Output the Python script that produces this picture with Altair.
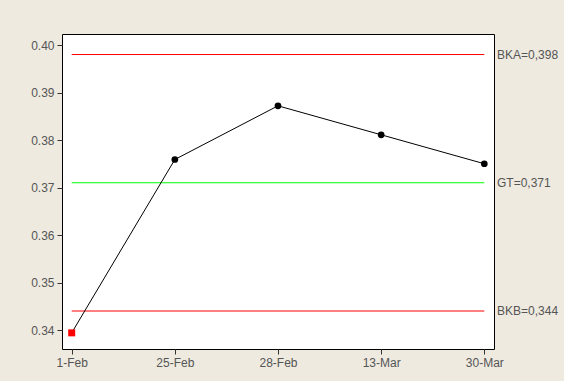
import altair as alt
import pandas as pd

# Sample dates and measured values
dates = ["1-Feb", "25-Feb", "28-Feb", "13-Mar", "30-Mar"]
values = [0.3394, 0.3759, 0.3872, 0.3811, 0.3750]

# Control limits: upper (BKA), centre (GT), lower (BKB)
limit_names = ["BKA", "GT", "BKB"]
limit_values = [0.398, 0.371, 0.344]
limit_colors = ["#FF0000", "#00FF00", "#FF0000"]

y_ticks = [0.34, 0.35, 0.36, 0.37, 0.38, 0.39, 0.40]

W, H = 432, 315
PAD = {"left": 62, "top": 34, "right": 70, "bottom": 32}
TEXT_GRAY = "#555555"
FONT = "Liberation Sans"

lo, hi = min(limit_values), max(limit_values)
pts = pd.DataFrame({
    "date": dates,
    "value": values,
    "status": ["out" if (v < lo or v > hi) else "in" for v in values],
})
lims = pd.DataFrame({
    "name": limit_names,
    "value": limit_values,
    "color": limit_colors,
    "start": dates[0],
    "end": dates[-1],
    "label": [f"{n}={v:.3f}".replace(".", ",") for n, v in zip(limit_names, limit_values)],
})

x_scale = alt.Scale(type="point", domain=dates, padding=0.094)
y_scale = alt.Scale(domain=[0.3360, 0.40232], nice=False, zero=False)

x_enc = alt.X("date:N", scale=x_scale, sort=dates,
              axis=alt.Axis(title=None, labelAngle=0, domain=False, ticks=True,
                            tickSize=5, tickColor="#333333", labelColor=TEXT_GRAY,
                            labelFont=FONT, labelFontSize=12, labelPadding=3, grid=False))
y_enc = alt.Y("value:Q", scale=y_scale,
              axis=alt.Axis(title=None, values=y_ticks, format=".2f", domain=False,
                            tickSize=5, tickColor="#333333", labelColor=TEXT_GRAY,
                            labelFont=FONT, labelFontSize=12, labelPadding=3, grid=False))

limit_rules = alt.Chart(lims).mark_rule(strokeWidth=1).encode(
    x=x_enc,
    x2=alt.X2("end:N"),
    y=alt.Y("value:Q", scale=y_scale),
    color=alt.Color("color:N", scale=None),
).transform_calculate(date="datum.start")

limit_labels = alt.Chart(lims).mark_text(
    align="left", baseline="middle", font=FONT, fontSize=12, color=TEXT_GRAY
).encode(
    x=alt.value(W + 3),
    y=alt.Y("value:Q", scale=y_scale),
    text="label:N",
)

line = alt.Chart(pts).mark_line(color="black", strokeWidth=1).encode(x=x_enc, y=y_enc)

dots = alt.Chart(pts).transform_filter(alt.datum.status == "in").mark_circle(
    color="black", size=45, opacity=1).encode(x=x_enc, y=y_enc)

alarms = alt.Chart(pts).transform_filter(alt.datum.status == "out").mark_square(
    color="#FF0000", size=49, opacity=1).encode(x=x_enc, y=y_enc)

chart = alt.layer(
    limit_rules, line, dots, alarms, limit_labels,
).properties(
    width=W, height=H,
    autosize=alt.AutoSizeParams(type="none"),
    padding=PAD,
    background="#EEEAE0",
).configure_view(
    fill="white", stroke="black", strokeWidth=1
)

chart.save("out.html", embed_options={"renderer": "svg", "actions": False})
